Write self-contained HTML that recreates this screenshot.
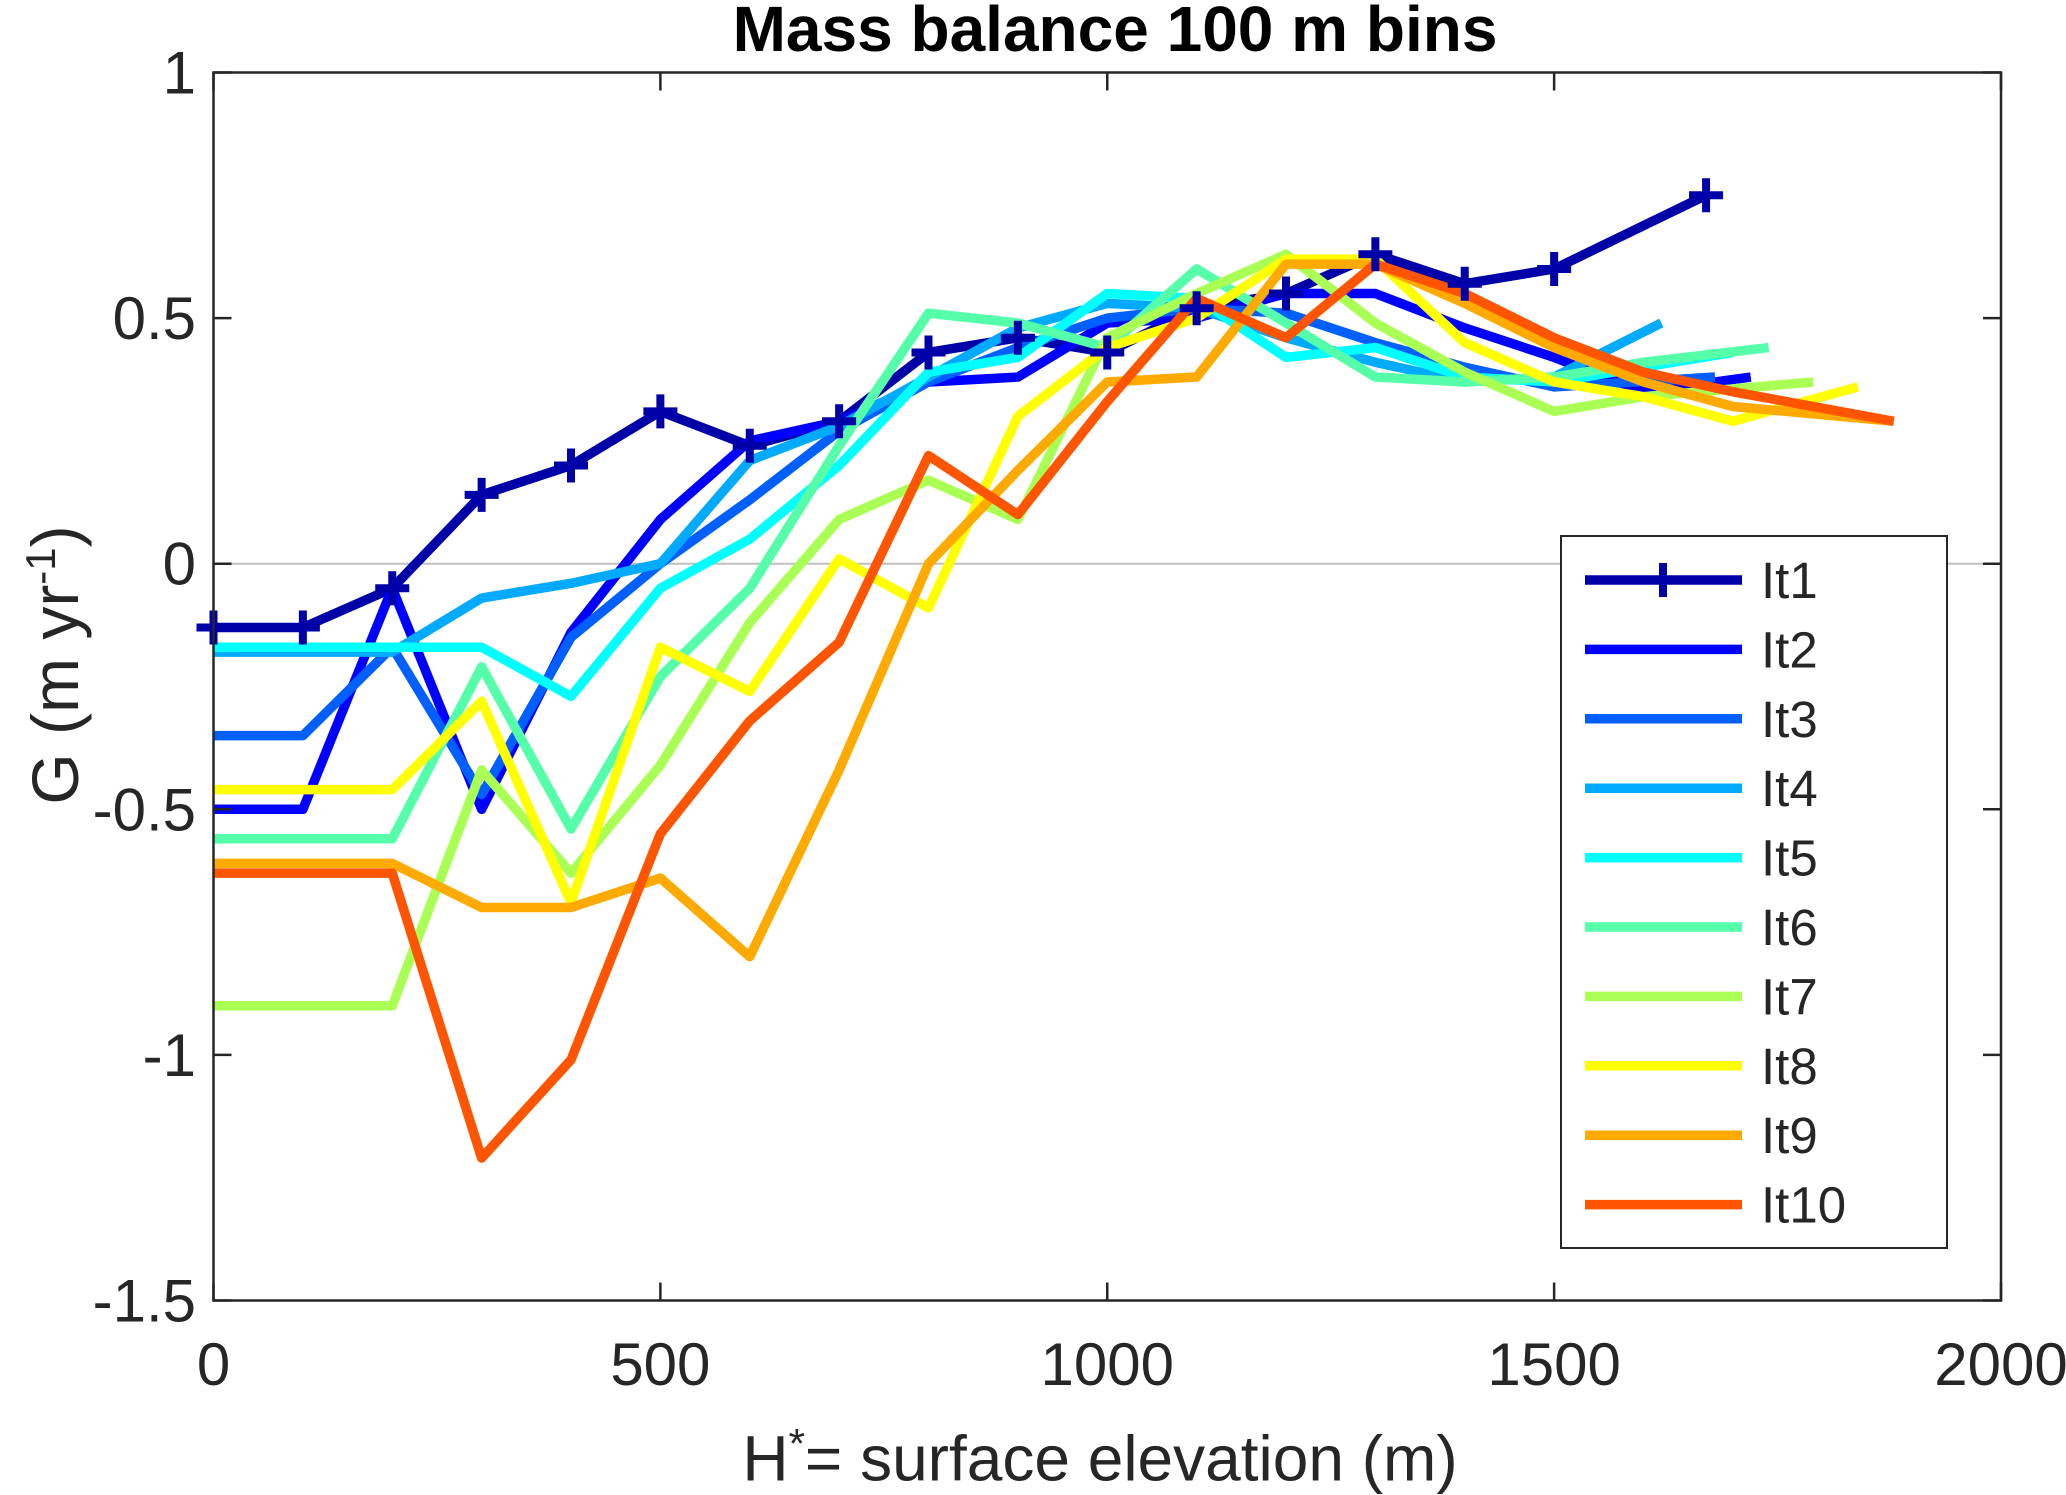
<!DOCTYPE html>
<html><head><meta charset="utf-8"><style>
html,body{margin:0;padding:0;background:#fff;}
svg{display:block;font-family:"Liberation Sans",sans-serif;}
</style></head><body>
<svg id="chart" width="2066" height="1495" viewBox="0 0 2066 1495"></svg>
<script>
const xs=[0,100,200,300,400,500,600,700,800,900,1000,1100,1200,1300,1400,1500,1600,1700];
const it1x=[0,100,200,300,400,500,600,700,800,900,1000,1100,1200,1300,1400,1500,1670];
const it1=[-0.13,-0.13,-0.05,0.14,0.2,0.31,0.24,0.29,0.43,0.46,0.43,0.52,0.55,0.63,0.57,0.6,0.75];
const it2x=[0,100,200,300,400,500,600,700,800,900,1000,1100,1200,1300,1400,1500,1600,1720];
const it2=[-0.5,-0.5,-0.05,-0.5,-0.14,0.09,0.25,0.29,0.37,0.38,0.49,0.5,0.55,0.55,0.48,0.42,0.35,0.38];
const it3x=[0,100,200,300,400,500,600,700,800,900,1000,1100,1200,1300,1400,1500,1680];
const it3=[-0.35,-0.35,-0.17,-0.47,-0.15,0.0,0.13,0.27,0.37,0.44,0.5,0.52,0.51,0.45,0.4,0.36,0.38];
const it4x=[0,100,200,300,400,500,600,700,800,900,1000,1100,1200,1300,1400,1500,1620];
const it4=[-0.18,-0.18,-0.18,-0.07,-0.04,0.0,0.21,0.28,0.38,0.48,0.53,0.52,0.46,0.41,0.37,0.38,0.49];
const it5x=[0,100,200,300,400,500,600,700,800,900,1000,1100,1200,1300,1400,1500,1600,1700];
const it5=[-0.17,-0.17,-0.17,-0.17,-0.27,-0.05,0.05,0.2,0.39,0.42,0.55,0.54,0.42,0.44,0.38,0.37,0.4,0.43];
const it6x=[0,100,200,300,400,500,600,700,800,900,1000,1100,1200,1300,1400,1500,1600,1740];
const it6=[-0.56,-0.56,-0.56,-0.21,-0.54,-0.23,-0.05,0.24,0.51,0.49,0.44,0.6,0.49,0.38,0.37,0.38,0.41,0.44];
const it7x=[0,100,200,300,400,500,600,700,800,900,1000,1100,1200,1300,1400,1500,1600,1790];
const it7=[-0.9,-0.9,-0.9,-0.42,-0.63,-0.41,-0.12,0.09,0.17,0.09,0.46,0.55,0.63,0.49,0.39,0.31,0.34,0.37];
const it8x=[0,100,200,300,400,500,600,700,800,900,1000,1100,1200,1300,1400,1500,1600,1700,1840];
const it8=[-0.46,-0.46,-0.46,-0.28,-0.69,-0.17,-0.26,0.01,-0.09,0.3,0.44,0.5,0.62,0.62,0.45,0.37,0.34,0.29,0.36];
const it9x=[0,100,200,300,400,500,600,700,800,900,1000,1100,1200,1300,1400,1500,1600,1700,1880];
const it9=[-0.61,-0.61,-0.61,-0.7,-0.7,-0.64,-0.8,-0.42,0.0,0.19,0.37,0.38,0.61,0.61,0.53,0.44,0.37,0.32,0.29];
const it10x=[0,100,200,300,400,500,600,700,800,900,1000,1100,1200,1300,1400,1500,1600,1700,1880];
const it10=[-0.63,-0.63,-0.63,-1.21,-1.01,-0.55,-0.32,-0.16,0.22,0.1,0.33,0.54,0.46,0.61,0.55,0.46,0.39,0.35,0.29];
const seriesNames=["It1","It2","It3","It4","It5","It6","It7","It8","It9","It10"];
const xTicks=[0,500,1000,1500,2000];
const yTicks=[1,0.5,0,-0.5,-1,-1.5];
const yTickLabels=["1","0.5","0","-0.5","-1","-1.5"];

const NS="http://www.w3.org/2000/svg";
const svg=document.getElementById('chart');
const L=213.5,R=2001,T=72.5,B=1300.5;
const X=v=>L+(v-0)/(2000-0)*(R-L);
const Y=v=>T+(1-v)/(1-(-1.5))*(B-T);
function mk(tag,attrs,parent){const e=document.createElementNS(NS,tag);for(const k in attrs)e.setAttribute(k,attrs[k]);(parent||svg).appendChild(e);return e;}

const zl=mk('line',{x1:L,x2:R,y1:Y(0),y2:Y(0),stroke:'#c0c0c0','stroke-width':2});



const colors=['#0000a8','#0000ff','#0060ff','#00aaff','#00ffff','#55ffaa','#aaff55','#ffff00','#ffaa00','#ff5500'];
const data=[[it1x,it1],[it2x,it2],[it3x,it3],[it4x,it4],[it5x,it5],[it6x,it6],[it7x,it7],[it8x,it8],[it9x,it9],[it10x,it10]];
const clipDef=mk('defs',{});
const cp=mk('clipPath',{id:'pc'},clipDef);mk('rect',{x:L,y:T,width:R-L,height:B-T},cp);
data.forEach((d,i)=>{
  const pts=d[0].map((x,j)=>X(x)+','+Y(d[1][j])).join(' ');
  const pl=mk('polyline',{points:pts,fill:'none',stroke:colors[i],'stroke-width':9.5,'stroke-linejoin':'round','clip-path':'url(#pc)'});
  
  
});
const mg=mk('g',{stroke:colors[0],'stroke-width':8});


it1x.forEach((x,j)=>{const cx=X(x),cy=Y(it1[j]);
  mk('line',{x1:cx-17,x2:cx+17,y1:cy,y2:cy},mg);mk('line',{x1:cx,x2:cx,y1:cy-17,y2:cy+17},mg);});

const box=mk('rect',{x:L,y:T,width:R-L,height:B-T,fill:'none',stroke:'#262626','stroke-width':2.5});


xTicks.forEach(v=>{
  mk('line',{x1:X(v),x2:X(v),y1:B,y2:B-18,stroke:'#262626','stroke-width':2.5});
  mk('line',{x1:X(v),x2:X(v),y1:T,y2:T+18,stroke:'#262626','stroke-width':2.5});
  const t=mk('text',{x:X(v),y:1385,'text-anchor':'middle','font-size':60,fill:'#262626'});t.textContent=v;
  
  
});
yTicks.forEach((v,i)=>{
  mk('line',{x1:L,x2:L+18,y1:Y(v),y2:Y(v),stroke:'#262626','stroke-width':2.5});
  mk('line',{x1:R,x2:R-18,y1:Y(v),y2:Y(v),stroke:'#262626','stroke-width':2.5});
  const t=mk('text',{x:196,y:Y(v)+21,'text-anchor':'end','font-size':60,fill:'#262626'});t.textContent=yTickLabels[i];
  
  
});
const lg=mk('g',{});


mk('rect',{x:1561,y:536,width:386,height:712,fill:'#fff',stroke:'#262626','stroke-width':2},lg);
seriesNames.forEach((n,i)=>{
  const y=580+i*69.4;
  const e=mk('g',{},lg);
  
  
  mk('line',{x1:1585,x2:1742,y1:y,y2:y,stroke:colors[i],'stroke-width':9.5},e);
  if(i===0){mk('line',{x1:1646,x2:1680,y1:y,y2:y,stroke:colors[0],'stroke-width':8},e);mk('line',{x1:1663,x2:1663,y1:y-17,y2:y+17,stroke:colors[0],'stroke-width':8},e);}
  const t=mk('text',{x:1761,y:y+18,'font-size':51,fill:'#262626'},e);t.textContent=n;
});
</script>
<div style="position:absolute;left:0;top:0;width:2066px;height:1495px;pointer-events:none;font-family:'Liberation Sans',sans-serif;">
<div style="position:absolute;left:0;width:2230px;top:-4px;text-align:center;font-weight:bold;font-size:64px;color:#000;line-height:66px;">Mass balance 100 m bins</div>
<div style="position:absolute;left:0;width:2200px;top:1408px;text-align:center;font-size:64px;color:#262626;line-height:72px;">H<sup style="font-size:42px;">*</sup>= surface elevation (m)</div>
<div style="position:absolute;left:48px;top:665px;transform:translate(-50%,-50%) rotate(-90deg);white-space:nowrap;font-size:66px;color:#262626;line-height:72px;">G (m yr<sup style="font-size:42px;">-1</sup>)</div>
</div>
</body></html>
